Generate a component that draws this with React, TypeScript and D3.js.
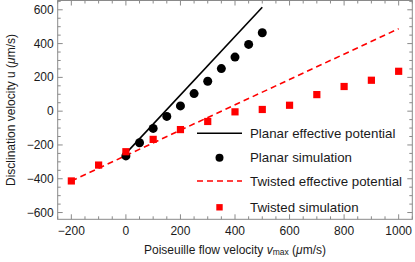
import React from "react";
import * as d3 from "d3";

// flow velocity (μm/s) and disclination velocity (μm/s)
const planarSimX = [0, 50, 100, 150, 200, 250, 300, 350, 400, 450, 500];
const planarSimU = [-265, -187, -102, -31, 31, 104, 177, 252, 320, 395, 464];

const twistedSimX = [-200, -100, 0, 100, 200, 300, 400, 500, 600, 700, 800, 900, 1000];
const twistedSimU = [-413, -319, -240, -167, -109, -61, -4, 10, 35, 98, 146, 183, 236];

const planarLineX = [0, 500];
const planarLineU = [-250, 615];

const twistedLineX = [-200, 1000];
const twistedLineU = [-413, 488];

const xMajor = [-200, 0, 200, 400, 600, 800, 1000];
const yMajor = [-600, -400, -200, 0, 200, 400, 600];

const legendLabels = [
  "Planar effective potential",
  "Planar simulation",
  "Twisted effective potential",
  "Twisted simulation",
];

const W = 415;
const H = 262;
const frame = { left: 57.7, right: 412.3, top: 0.5, bottom: 219.3 };
const FONT = "'Liberation Sans', Arial, Helvetica, sans-serif";
const AXIS = "#8a8a8a";
const RED = "#ff0000";

export default function App() {
  const x = d3.scaleLinear().domain([-250, 1050]).range([frame.left, frame.right]);
  const y = d3.scaleLinear().domain([-640, 655]).range([frame.bottom, frame.top]);
  const fmt = (v: number) => (v < 0 ? "\u2212" + Math.abs(v) : String(v));

  const xMinor = d3.range(-250, 1051, 50).filter((v) => v % 200 !== 0);
  const yMinor = d3.range(-600, 651, 50).filter((v) => v % 200 !== 0);

  const line = d3
    .line<[number, number]>()
    .x((d) => x(d[0]))
    .y((d) => y(d[1]));

  const planarLine = line(planarLineX.map((v, i) => [v, planarLineU[i]]));
  const twistedLine = line(twistedLineX.map((v, i) => [v, twistedLineU[i]]));

  const legendY = [133.3, 157.7, 181, 207.3];
  const lx0 = 197;
  const lx1 = 242;

  return (
    <div style={{ position: "fixed", left: 0, top: 0 }}>
      <svg width={W} height={H} style={{ display: "block", fontFamily: FONT }}>
        <rect width={W} height={H} fill="#fff" />

        {/* data lines */}
        <path d={planarLine || ""} stroke="#000" strokeWidth={1.6} fill="none" />
        <path
          d={twistedLine || ""}
          stroke={RED}
          strokeWidth={1.6}
          strokeDasharray="6,4"
          fill="none"
        />

        {/* markers */}
        {planarSimX.map((v, i) => (
          <circle key={"c" + i} cx={x(v)} cy={y(planarSimU[i])} r={4.5} fill="#000" />
        ))}
        {twistedSimX.map((v, i) => (
          <rect
            key={"s" + i}
            x={x(v) - 3.6}
            y={y(twistedSimU[i]) - 3.6}
            width={7.2}
            height={7.2}
            fill={RED}
          />
        ))}

        {/* frame */}
        <rect
          x={frame.left}
          y={frame.top}
          width={frame.right - frame.left}
          height={frame.bottom - frame.top}
          fill="none"
          stroke={AXIS}
          strokeWidth={1}
        />
        {xMajor.map((v) => (
          <g key={"xm" + v} stroke={AXIS}>
            <line x1={x(v)} x2={x(v)} y1={frame.bottom} y2={frame.bottom - 5} />
            <line x1={x(v)} x2={x(v)} y1={frame.top} y2={frame.top + 5} />
          </g>
        ))}
        {xMinor.map((v) => (
          <g key={"xn" + v} stroke={AXIS}>
            <line x1={x(v)} x2={x(v)} y1={frame.bottom} y2={frame.bottom - 3} />
            <line x1={x(v)} x2={x(v)} y1={frame.top} y2={frame.top + 3} />
          </g>
        ))}
        {yMajor.map((v) => (
          <g key={"ym" + v} stroke={AXIS}>
            <line x1={frame.left} x2={frame.left + 5} y1={y(v)} y2={y(v)} />
            <line x1={frame.right} x2={frame.right - 5} y1={y(v)} y2={y(v)} />
          </g>
        ))}
        {yMinor.map((v) => (
          <g key={"yn" + v} stroke={AXIS}>
            <line x1={frame.left} x2={frame.left + 3} y1={y(v)} y2={y(v)} />
            <line x1={frame.right} x2={frame.right - 3} y1={y(v)} y2={y(v)} />
          </g>
        ))}

        {/* tick labels */}
        {xMajor.map((v) => (
          <text
            key={"xl" + v}
            x={x(v)}
            y={231}
            fontSize={12}
            textAnchor="middle"
            dominantBaseline="central"
            fill="#1a1a1a"
          >
            {fmt(v)}
          </text>
        ))}
        {yMajor.map((v) => (
          <text
            key={"yl" + v}
            x={frame.left - 4}
            y={y(v)}
            fontSize={12}
            textAnchor="end"
            dominantBaseline="central"
            fill="#1a1a1a"
          >
            {fmt(v)}
          </text>
        ))}

        {/* axis titles */}
        <text x={235} y={250} fontSize={12} textAnchor="middle" dominantBaseline="central" fill="#1a1a1a">
          Poiseuille flow velocity <tspan fontStyle="italic">v</tspan>
          <tspan fontSize={8.5} dy={2}>max</tspan>
          <tspan dy={-2}> (</tspan>
          <tspan fontStyle="italic">μ</tspan>m/s)
        </text>
        <text
          transform={`translate(11,110) rotate(-90)`}
          fontSize={12}
          textAnchor="middle"
          dominantBaseline="central"
          fill="#1a1a1a"
        >
          Disclination velocity u (<tspan fontStyle="italic">μ</tspan>m/s)
        </text>

        {/* legend */}
        <line x1={lx0} x2={lx1} y1={legendY[0]} y2={legendY[0]} stroke="#000" strokeWidth={1.6} />
        <circle cx={(lx0 + lx1) / 2} cy={legendY[1]} r={4} fill="#000" />
        <line
          x1={lx0}
          x2={lx1}
          y1={legendY[2]}
          y2={legendY[2]}
          stroke={RED}
          strokeWidth={1.6}
          strokeDasharray="6,4"
        />
        <rect
          x={(lx0 + lx1) / 2 - 3.2}
          y={legendY[3] - 3.2}
          width={6.4}
          height={6.4}
          fill={RED}
        />
        {legendLabels.map((t, i) => (
          <text
            key={t}
            x={250}
            y={legendY[i]}
            fontSize={13.3}
            dominantBaseline="central"
            fill="#1a1a1a"
          >
            {t}
          </text>
        ))}
      </svg>
    </div>
  );
}
